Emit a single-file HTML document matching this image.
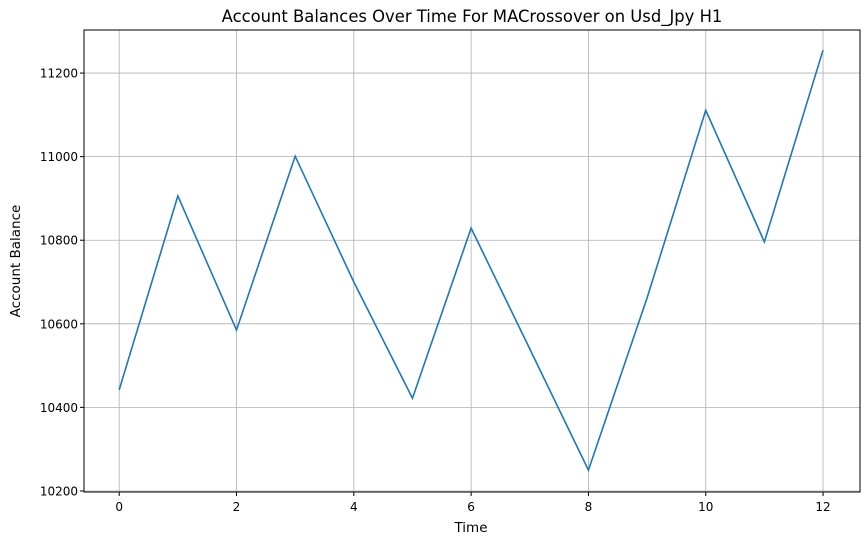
<!DOCTYPE html>
<html><head><meta charset="utf-8"><style>
body{margin:0;background:#fff;}
svg text{font-family:"DejaVu Sans","Liberation Sans",sans-serif;fill:#000;}
</style></head><body>
<svg id="chart" width="868" height="545">
<text x="472" y="22" font-size="16.4" text-anchor="middle">Account Balances Over Time For MACrossover on Usd_Jpy H1</text>
<g id="grid"></g><g id="ticks"></g>
<path id="line" fill="none" stroke="#1f77b4" stroke-width="1.6"/>
<rect x="84" y="30" width="776" height="462" fill="none" stroke="#000" stroke-width="1"/>
<text x="471" y="532" font-size="13.5" text-anchor="middle">Time</text>
<text x="20" y="261" font-size="13.5" text-anchor="middle" transform="rotate(-90 20 261)">Account Balance</text>
</svg>
<script>
const times=[0,1,2,3,4,5,6,7,8,9,10,11,12];
const balances=[10442,10906,10585,11001,10700,10422,10829,10540,10250,10662,11111,10796,11255];
const xTicks=[0,2,4,6,8,10,12];
const yTicks=[10200,10400,10600,10800,11000,11200];
const L=84,R=860,T=30,B=492;
const x0=-0.6,x1=12.63,y0=10197.6,y1=11303;
const sx=v=>L+(v-x0)/(x1-x0)*(R-L);
const sy=v=>B-(v-y0)/(y1-y0)*(B-T);
const ns='http://www.w3.org/2000/svg';
const g=document.getElementById('grid'),tk=document.getElementById('ticks');
function mk(tag,attrs,parent){const e=document.createElementNS(ns,tag);for(const k in attrs)e.setAttribute(k,attrs[k]);parent.appendChild(e);return e;}
xTicks.forEach(t=>{const x=sx(t);
const l=mk('line',{x1:x,x2:x,y1:T,y2:B,stroke:'#b0b0b0','stroke-width':0.8},g);

const m=mk('line',{x1:x,x2:x,y1:B,y2:B+4,stroke:'#000'},tk);

const s=mk('text',{x:x,y:B+19,'font-size':12,'text-anchor':'middle'},tk);s.textContent=t;
});
yTicks.forEach(t=>{const y=sy(t);
const l=mk('line',{x1:L,x2:R,y1:y,y2:y,stroke:'#b0b0b0','stroke-width':0.8},g);

const m=mk('line',{x1:L-4,x2:L,y1:y,y2:y,stroke:'#000'},tk);

const s=mk('text',{x:L-6,y:y+4.5,'font-size':12,'text-anchor':'end'},tk);s.textContent=t;
});
document.getElementById('line').setAttribute('d',times.map((t,i)=>(i?'L':'M')+sx(t)+' '+sy(balances[i])).join(' '));
</script>
</body></html>
